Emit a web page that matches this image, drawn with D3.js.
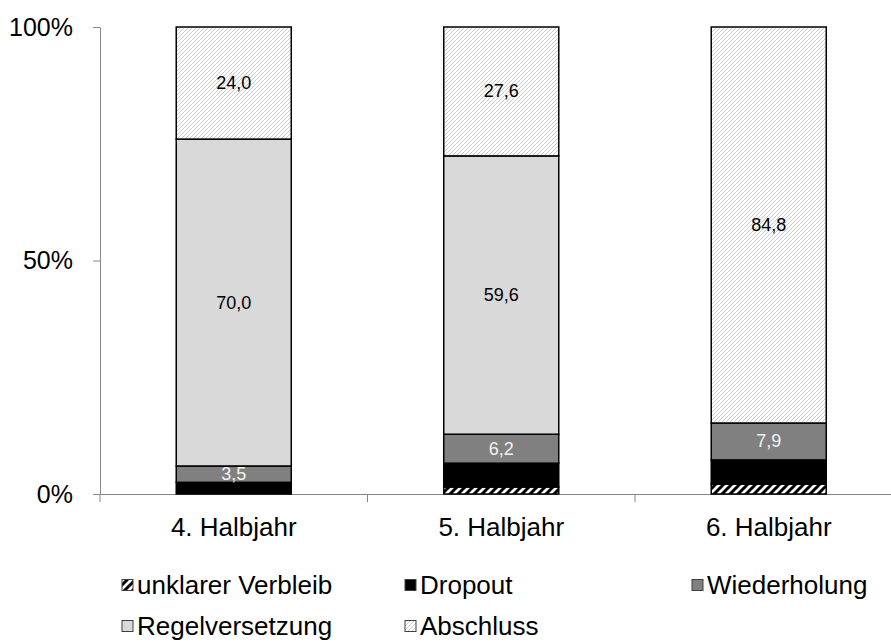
<!DOCTYPE html>
<html>
<head>
<meta charset="utf-8">
<script src="https://cdn.jsdelivr.net/npm/d3@7"></script>
<style>
  html, body { margin: 0; padding: 0; background: #fff; }
  svg { display: block; font-family: "Liberation Sans", Arial, sans-serif; }
</style>
</head>
<body>
<svg id="chart" width="891" height="643"></svg>
<script>
// ---- data ----
const categories = ["4. Halbjahr", "5. Halbjahr", "6. Halbjahr"];
const unklarerVerbleib = [0, 1.5, 2.1];
const dropout = [2.5, 5.1, 5.2];
const wiederholung = [3.5, 6.2, 7.9];
const regelversetzung = [70.0, 59.6, 0];
const abschluss = [24.0, 27.6, 84.8];
const yTickValues = [0, 50, 100];
const seriesNames = ["unklarer Verbleib", "Dropout", "Wiederholung", "Regelversetzung", "Abschluss"];
const seriesValues = [unklarerVerbleib, dropout, wiederholung, regelversetzung, abschluss];
const labelledSeries = ["Wiederholung", "Regelversetzung", "Abschluss"];

// ---- setup ----
const svg = d3.select("#chart");
const defs = svg.append("defs");

// wide upward diagonal (black on white)
const pWide = defs.append("pattern").attr("id", "pWide").attr("patternUnits", "userSpaceOnUse")
  .attr("width", 8).attr("height", 8);
pWide.append("rect").attr("width", 8).attr("height", 8).attr("fill", "#fff");
pWide.append("path").attr("d", "M-2,2 L2,-2 M-2,10 L10,-2 M6,10 L10,6")
  .attr("stroke", "#000").attr("stroke-width", 3);

// light upward diagonal (light grey on white)
const pLight = defs.append("pattern").attr("id", "pLight").attr("patternUnits", "userSpaceOnUse")
  .attr("width", 4).attr("height", 4);
pLight.append("rect").attr("width", 4).attr("height", 4).attr("fill", "#fff");
pLight.append("path").attr("d", "M-1,1 L1,-1 M0,4 L4,0 M3,5 L5,3")
  .attr("stroke", "#cbcbcb").attr("stroke-width", 1);

const fills = {
  "unklarer Verbleib": "url(#pWide)",
  "Dropout": "#000000",
  "Wiederholung": "#808080",
  "Regelversetzung": "#d9d9d9",
  "Abschluss": "url(#pLight)"
};
const labelColors = {
  "Wiederholung": "#f2f2f2",
  "Regelversetzung": "#000",
  "Abschluss": "#000"
};

const plotLeft = 100, plotRight = 902.5, plotTop = 27, plotBottom = 494;
const x = d3.scaleBand().domain(categories).range([plotLeft, plotRight]).padding(0);
const y = d3.scaleLinear().domain([0, 100]).range([plotBottom, plotTop]);
const barW = x.bandwidth() * 0.43;

// rows for stacking
const rows = categories.map((c, i) => {
  const r = { cat: c };
  seriesNames.forEach((s, k) => r[s] = seriesValues[k][i]);
  return r;
});
const stacked = d3.stack().keys(seriesNames)(rows);

const axisColor = "#868686";
const fontFam = "'Liberation Sans', Arial, sans-serif";

// ---- y axis ----
const yAxis = svg.append("g").attr("transform", `translate(${plotLeft},0)`)
  .call(d3.axisLeft(y).tickValues(yTickValues).tickFormat(d => d + "%").tickSize(7).tickSizeOuter(0).tickPadding(20));
yAxis.select(".domain").attr("stroke", axisColor).attr("stroke-width", 1);
yAxis.selectAll(".tick line").attr("stroke", axisColor);
yAxis.selectAll(".tick text").attr("fill", "#000").style("font-size", "25px").style("font-family", fontFam);

// ---- x axis ----
const xAxis = svg.append("g").attr("transform", `translate(0,${plotBottom})`)
  .call(d3.axisBottom(x).tickSize(0).tickPadding(24));
xAxis.select(".domain").attr("stroke", axisColor).attr("stroke-width", 1);
xAxis.selectAll(".tick text").attr("fill", "#000").style("font-size", "26px").style("font-family", fontFam);
const boundaries = categories.map(c => x(c)).concat([x(categories[categories.length - 1]) + x.bandwidth()]);
xAxis.selectAll("line.bound").data(boundaries).enter().append("line").attr("class", "bound")
  .attr("x1", d => d).attr("x2", d => d).attr("y1", 0).attr("y2", 8)
  .attr("stroke", axisColor).attr("stroke-width", 1);

// ---- bars ----
const layers = svg.append("g").selectAll("g.layer").data(stacked).enter().append("g").attr("class", "layer");
layers.selectAll("rect").data(d => d.map(v => ({ key: d.key, v })))
  .enter().filter(d => d.v[1] - d.v[0] > 0).append("rect")
  .attr("x", d => x(d.v.data.cat) + (x.bandwidth() - barW) / 2)
  .attr("width", barW)
  .attr("y", d => y(d.v[1]))
  .attr("height", d => y(d.v[0]) - y(d.v[1]))
  .attr("fill", d => fills[d.key])
  .attr("stroke", "#000").attr("stroke-width", 1.5);

// ---- value labels ----
const fmt = v => v.toFixed(1).replace(".", ",");
layers.filter(d => labelledSeries.includes(d.key))
  .selectAll("text").data(d => d.map(v => ({ key: d.key, v })))
  .enter().filter(d => d.v[1] - d.v[0] > 0).append("text")
  .attr("x", d => x(d.v.data.cat) + x.bandwidth() / 2)
  .attr("y", d => (y(d.v[0]) + y(d.v[1])) / 2)
  .attr("text-anchor", "middle").attr("dominant-baseline", "central")
  .attr("fill", d => labelColors[d.key])
  .style("font-size", "18px")
  .text(d => fmt(d.v[1] - d.v[0]));

// ---- legend ----
const legendColX = [122, 405, 692];
const legendRowY = [585, 626];
const legend = svg.append("g").selectAll("g").data(seriesNames).enter().append("g")
  .attr("transform", (d, i) => `translate(${legendColX[i % 3]},${legendRowY[Math.floor(i / 3)]})`);
legend.append("rect").attr("x", 0).attr("y", -5.5).attr("width", 11).attr("height", 11)
  .attr("fill", d => fills[d]).attr("stroke", "#404040").attr("stroke-width", 1);
legend.append("text").attr("x", 15).attr("y", 0).attr("dominant-baseline", "central")
  .style("font-size", "26px").attr("fill", "#000").text(d => d);
</script>
</body>
</html>
